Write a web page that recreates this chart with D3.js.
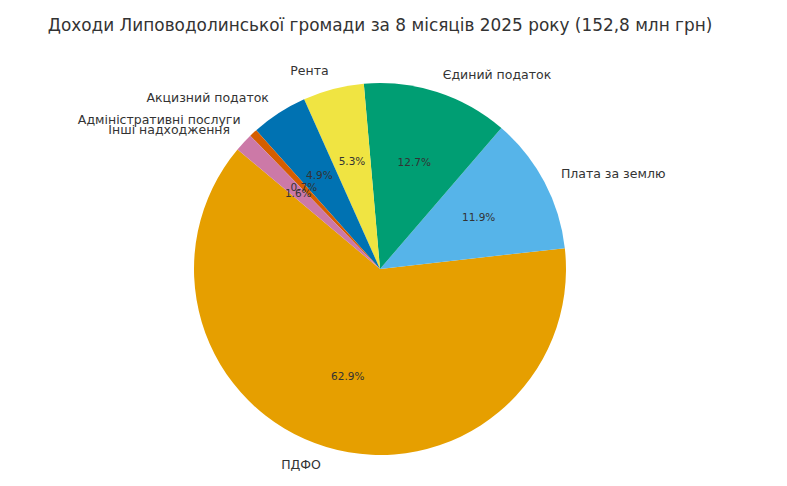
<!DOCTYPE html>
<html><head><meta charset="utf-8">
<script src="https://cdn.jsdelivr.net/npm/d3@7"></script>
<style>body{margin:0;background:#fff}</style></head>
<body><svg id="c" width="787" height="486"></svg>
<script>
const categories = ["ПДФО","Плата за землю","Єдиний податок","Рента","Акцизний податок","Адміністративні послуги","Інші надходження"];
const values = [62.9,11.9,12.7,5.3,4.9,0.7,1.6];
const colors = ["#E69F00","#56B4E9","#009E73","#F0E442","#0072B2","#D55E00","#CC79A7"];
const svg = d3.select("#c");
const cx=380, cy=269, r=186, startDeg=140;
svg.append("text").attr("x",380).attr("y",31).attr("text-anchor","middle")
  .attr("font-family","DejaVu Sans").attr("font-size",16.9).attr("fill","#333")
  .text("Доходи Липоводолинської громади за 8 місяців 2025 року (152,8 млн грн)");
const s0=(90-startDeg)*Math.PI/180;
const pie=d3.pie().sort(null).startAngle(s0).endAngle(s0-2*Math.PI);
const arcs=pie(values);
const arc=d3.arc().innerRadius(0).outerRadius(r);
const g=svg.append("g").attr("transform",`translate(${cx},${cy})`);
g.selectAll("path").data(arcs).join("path").attr("d",arc).attr("fill",(d,i)=>colors[i]);
arcs.forEach((d,i)=>{
  const m=(d.startAngle+d.endAngle)/2;
  const x=Math.sin(m), y=-Math.cos(m);
  g.append("text").attr("x",1.1*r*x).attr("y",1.1*r*y).attr("dy","0.35em")
   .attr("text-anchor",x>0?"start":"end").attr("font-family","DejaVu Sans")
   .attr("font-size",12.5).attr("fill","#333").text(categories[i]);
  g.append("text").attr("x",0.6*r*x).attr("y",0.6*r*y).attr("dy","0.35em")
   .attr("text-anchor","middle").attr("font-family","DejaVu Sans")
   .attr("font-size",10.5).attr("fill","#333").text(values[i].toFixed(1)+"%");
});
</script></body></html>
